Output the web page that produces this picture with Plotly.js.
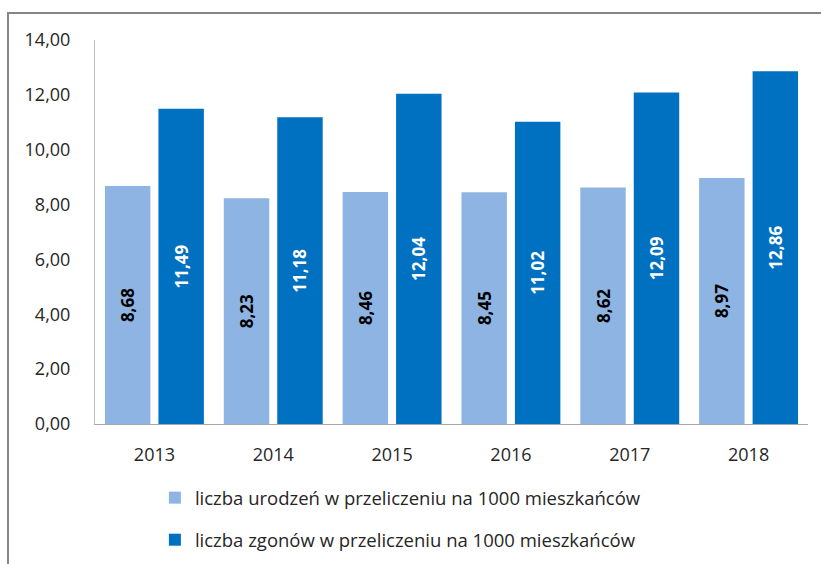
<!DOCTYPE html>
<html>
<head>
<meta charset="utf-8">
<script src="https://cdn.plot.ly/plotly-3.0.1.min.js"></script>
<style>
  body { margin: 0; background: #fff; }
  #frame { position: absolute; left: 7px; top: 12px; width: 900px; height: 700px; border: 2px solid #868686; pointer-events: none; }
  #chart { position: absolute; left: 0; top: 0; width: 821px; height: 564px; }
</style>
</head>
<body>
<div id="chart"></div>
<div id="frame"></div>
<script>
var years = ['2013', '2014', '2015', '2016', '2017', '2018'];
var births = [8.68, 8.23, 8.46, 8.45, 8.62, 8.97];
var deaths = [11.49, 11.18, 12.04, 11.02, 12.09, 12.86];
var yTicks = [0, 2, 4, 6, 8, 10, 12, 14];

var fontFamily = '"Open Sans", sans-serif';

var traceBirths = {
  x: years,
  y: births,
  type: 'bar',
  name: 'liczba urodzeń w przeliczeniu na 1000 mieszkańców',
  legendgroup: 'a',
  marker: { color: '#8EB4E3' },
  texttemplate: '%{y:.2f}',
  textposition: 'inside',
  insidetextanchor: 'middle',
  textangle: -90,
  textfont: { family: fontFamily, size: 17, color: '#000000', weight: 'bold' },
  hoverinfo: 'none'
};

var traceDeaths = {
  x: years,
  y: deaths,
  type: 'bar',
  name: 'liczba zgonów w przeliczeniu na 1000 mieszkańców',
  legendgroup: 'b',
  marker: { color: '#0070C0' },
  texttemplate: '%{y:.2f}',
  textposition: 'inside',
  insidetextanchor: 'middle',
  textangle: -90,
  textfont: { family: fontFamily, size: 17, color: '#ffffff', weight: 'bold' },
  hoverinfo: 'none'
};

var layout = {
  width: 821,
  height: 564,
  margin: { l: 95, r: 13, t: 40, b: 140 },
  paper_bgcolor: 'rgba(0,0,0,0)',
  plot_bgcolor: 'rgba(0,0,0,0)',
  separators: ', ',
  font: { family: fontFamily, size: 18, color: '#262626' },
  barmode: 'group',
  bargap: 0.1,
  bargroupgap: 0.15,
  showlegend: true,
  legend: {
    orientation: 'v',
    xref: 'paper', x: 0.084, xanchor: 'left',
    yref: 'container', y: 0.1505, yanchor: 'top',
    tracegroupgap: 15,
    font: { family: fontFamily, size: 18.5, color: '#262626' }
  },
  xaxis: {
    showline: true,
    linecolor: '#A6A6A6',
    linewidth: 1,
    ticks: '',
    showgrid: false,
    ticklabelstandoff: 14,
    tickfont: { size: 18 }
  },
  yaxis: {
    range: [0, 14],
    tickvals: yTicks,
    tickformat: '.2f',
    showline: true,
    linecolor: '#BFBFBF',
    linewidth: 1,
    ticks: '',
    showgrid: false,
    zeroline: false,
    ticklabelstandoff: 20,
    tickfont: { size: 18 }
  }
};

Plotly.newPlot('chart', [traceBirths, traceDeaths], layout, { displayModeBar: false, staticPlot: true });
</script>
</body>
</html>
